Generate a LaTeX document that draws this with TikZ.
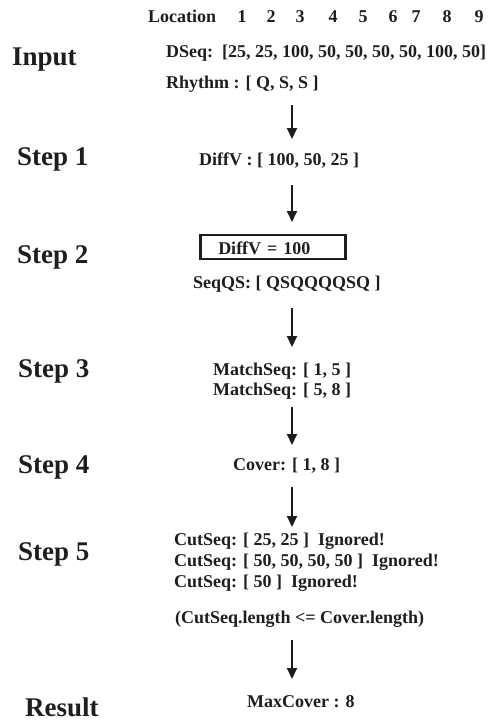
\documentclass[tikz,border=0pt]{standalone}
\usepackage{fontspec}
\setmainfont{Liberation Serif}
\usetikzlibrary{arrows.meta}
\definecolor{ink}{HTML}{1E1E1E}
\tikzset{
  txt/.style={inner sep=0pt, anchor=base west, text=ink,
    font=\fontsize{18}{20}\selectfont\bfseries},
  steplabel/.style={inner sep=0pt, anchor=base west, text=ink,
    font=\fontsize{27}{30}\selectfont\bfseries},
  flow/.style={draw=ink, line width=2pt,
    -{Triangle[width=10pt,length=11pt]}},
  valbox/.style={txt, draw=ink, line width=2.5pt, anchor=north west,
    minimum width=145pt, minimum height=24pt, text width=109pt,
    inner xsep=18pt, inner ysep=0pt, align=left,
    text height=16pt, text depth=0pt}
}
\begin{document}
\begin{tikzpicture}[x=1pt,y=-1pt]
\useasboundingbox (0,0) rectangle (491,721);

% stage names on the left
\node[steplabel] (lin) at (12,65) {Input};
\node[steplabel] (ls1) at (17,165) {Step 1};
\node[steplabel] (ls2) at (17,263) {Step 2};
\node[steplabel] (ls3) at (18,377) {Step 3};
\node[steplabel] (ls4) at (18,473) {Step 4};
\node[steplabel] (ls5) at (18,560) {Step 5};
\node[steplabel] (lres) at (25,716) {Result};

% location header
\node[txt] (loc) at (148,22) {Location};
\foreach \x/\n in {242/1,271/2,300/3,333/4,363/5,393/6,416/7,447/8,479/9}
  \node[txt, anchor=base] (loc\n) at (\x,22) {\n};

% input
\node[txt] (dseq) at (166,57) {DSeq:\ \ [25, 25, 100, 50, 50, 50, 50, 100, 50]};
\node[txt] (rhythm) at (166,88) {Rhythm : [ Q, S, S ]};

% step 1
\node[txt] (diffv) at (199,165) {DiffV : [ 100, 50, 25 ]};

% step 2
\node[valbox] (sel) at (199,233.5) {DiffV = 100};
\node[txt] (seqqs) at (193,288) {SeqQS: [ QSQQQQSQ ]};

% step 3
\node[txt] (match1) at (213,375) {MatchSeq: [ 1, 5 ]};
\node[txt] (match2) at (213,395) {MatchSeq: [ 5, 8 ]};

% step 4
\node[txt] (cover) at (233,470) {Cover: [ 1, 8 ]};

% step 5
\node[txt] (cut1) at (174,545) {CutSeq: [ 25, 25 ]\ \ Ignored!};
\node[txt] (cut2) at (174,566) {CutSeq: [ 50, 50, 50, 50 ]\ \ Ignored!};
\node[txt] (cut3) at (174,587) {CutSeq: [ 50 ]\ \ Ignored!};
\node[txt] (cond) at (175,623) {(CutSeq.length <= Cover.length)};

% result
\node[txt] (maxcover) at (247,707) {MaxCover : 8};

% arrow end points
\coordinate (a1s) at (292,105);
\coordinate (a1e) at (292,139);
\coordinate (a2s) at (292,185);
\coordinate (a2e) at (292,222);
\coordinate (a3s) at (292,308);
\coordinate (a3e) at (292,347);
\coordinate (a4s) at (292,407);
\coordinate (a4e) at (292,445);
\coordinate (a5s) at (292,487);
\coordinate (a5e) at (292,527);
\coordinate (a6s) at (292,640);
\coordinate (a6e) at (292,679);

\draw[flow] (a1s) -- (a1e);
\draw[flow] (a2s) -- (a2e);
\draw[flow] (a3s) -- (a3e);
\draw[flow] (a4s) -- (a4e);
\draw[flow] (a5s) -- (a5e);
\draw[flow] (a6s) -- (a6e);
\end{tikzpicture}
\end{document}
